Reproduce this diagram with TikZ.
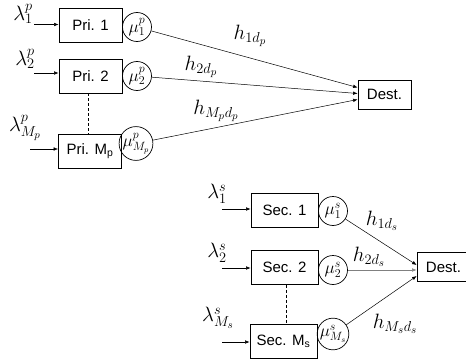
\documentclass[tikz,border=0pt]{standalone}
\usepackage{fontspec}
\setmainfont{Liberation Sans}
\usetikzlibrary{arrows.meta}

\begin{document}
\begin{tikzpicture}[x=1pt, y=-1pt,
    box/.style={draw, line width=0.7pt, minimum width=63pt, minimum height=34pt, inner sep=0pt, font=\fontsize{15}{17}\selectfont},
    sbox/.style={box, minimum width=67pt},
    dest/.style={box, minimum width=53pt, minimum height=29pt},
    rate/.style={circle, draw, line width=0.7pt, minimum size=29pt, inner sep=0pt, font=\fontsize{17}{19}\selectfont},
    lab/.style={inner sep=0pt, font=\fontsize{21}{23}\selectfont},
    arrow/.style={-{Latex[length=4.5pt, width=3.5pt]}, line width=0.5pt},
    dots/.style={densely dashed, line width=0.6pt}
]
\useasboundingbox (0,0) rectangle (466,364);

% === PRIMARY USERS ===
\node[box] (pri1) at (90.5, 25) {Pri. 1};
\node[box] (pri2) at (90.5, 76) {Pri. 2};
\node[box] (priM) at (90, 151) {Pri. M\textsubscript{p}};

\node[rate] (mu1p) at (137, 27) {$\mu_1^p$};
\node[rate] (mu2p) at (137, 76) {$\mu_2^p$};
\node[rate] (muMp) at (136, 143.5) {$\mu_{M_p}^p$};

\node[dest] (destp) at (384.5, 94.5) {Dest.};

% arrival rates
\node[lab] (lam1p) at (23, 14) {$\lambda_1^p$};
\node[lab] (lam2p) at (25, 59) {$\lambda_2^p$};
\node[lab] (lamMp) at (25, 128) {$\lambda_{M_p}^p$};
\coordinate (in1p) at (34, 24.5);
\coordinate (in2p) at (34, 73);
\coordinate (inMp) at (30, 149);
\draw[arrow] (in1p) -- (in1p -| pri1.west);
\draw[arrow] (in2p) -- (in2p -| pri2.west);
\draw[arrow] (inMp) -- (inMp -| priM.west);

\draw[dots] (pri2.south -| 88, 0) -- (priM.north -| 88, 0);

% channels to the destination
\draw[arrow] (mu1p) -- ([yshift=7pt]destp.west);
\draw[arrow] (mu2p) -- ([yshift=1pt]destp.west);
\draw[arrow] (muMp) -- ([yshift=-5pt]destp.west);
\node[lab] (h1p) at (250, 36) {$h_{1d_p}$};
\node[lab] (h2p) at (201, 67) {$h_{2d_p}$};
\node[lab] (hMp) at (216, 111) {$h_{M_pd_p}$};

% === SECONDARY USERS ===
\node[sbox] (sec1) at (284.5, 210.5) {Sec. 1};
\node[sbox] (sec2) at (284.5, 267.5) {Sec. 2};
\node[sbox] (secM) at (283.5, 341.5) {Sec. M\textsubscript{s}};

\node[rate] (mu1s) at (333, 211) {$\mu_1^s$};
\node[rate] (mu2s) at (333, 270) {$\mu_2^s$};
\node[rate] (muMs) at (333, 334) {$\mu_{M_s}^s$};

\node[dest] (dests) at (443.5, 267) {Dest.};

% arrival rates
\node[lab] (lam1s) at (217, 194) {$\lambda_1^s$};
\node[lab] (lam2s) at (217, 253) {$\lambda_2^s$};
\node[lab] (lamMs) at (218, 318) {$\lambda_{M_s}^s$};
\coordinate (in1s) at (222, 209);
\coordinate (in2s) at (222, 268);
\coordinate (inMs) at (222, 342);
\draw[arrow] (in1s) -- (in1s -| sec1.west);
\draw[arrow] (in2s) -- (in2s -| sec2.west);
\draw[arrow] (inMs) -- (inMs -| secM.west);

\draw[dots] (sec2.south -| 286, 0) -- (secM.north -| 286, 0);

% channels to the destination
\draw[arrow] (mu1s) -- ([yshift=2pt]dests.west);
\draw[arrow, gray] (mu2s) -- ([yshift=-3pt]dests.west);
\draw[arrow] (muMs) -- ([yshift=-9pt]dests.west);
\node[lab] (h1s) at (382, 221) {$h_{1d_s}$};
\node[lab] (h2s) at (369, 257) {$h_{2d_s}$};
\node[lab] (hMs) at (395, 324) {$h_{M_sd_s}$};

\end{tikzpicture}
\end{document}
